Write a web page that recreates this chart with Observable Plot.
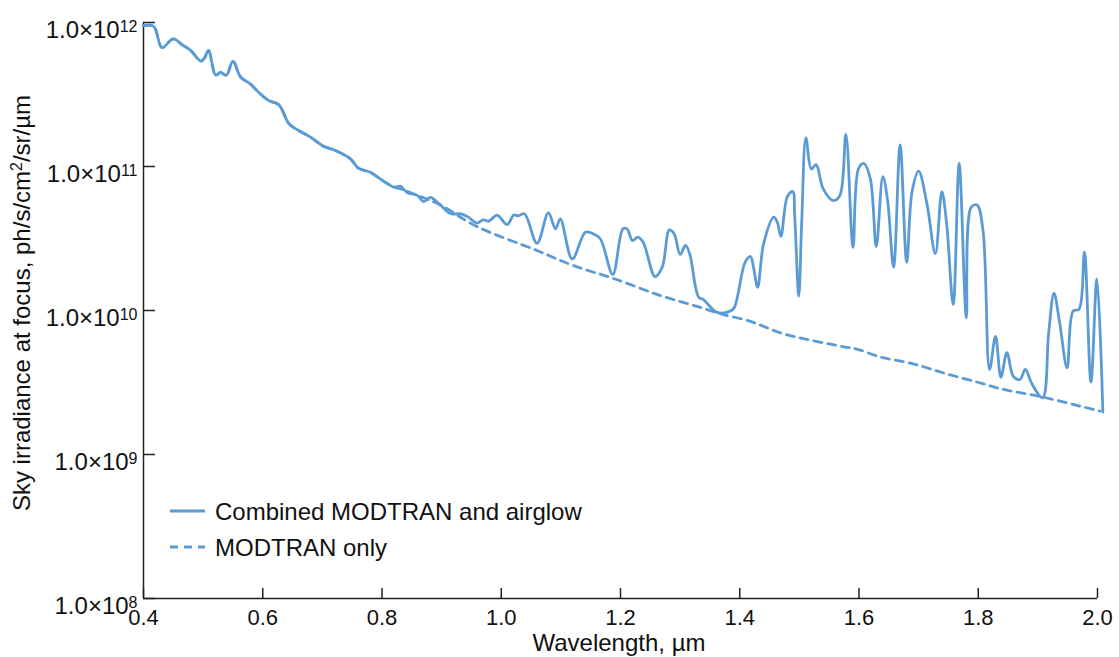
<!DOCTYPE html>
<html><head><meta charset="utf-8">
<script src="https://cdn.jsdelivr.net/npm/d3@7"></script>
<script src="https://cdn.jsdelivr.net/npm/@observablehq/plot@0.6"></script>
<style>
body{margin:0;background:#fff;}
#chart{position:relative;width:1119px;height:657px;}
</style>
</head><body><div id="chart"></div>
<script>
// Combined MODTRAN and airglow (wavelength µm, irradiance ph/s/cm²/sr/µm)
const combinedWl = [0.400,0.417,0.431,0.450,0.465,0.479,0.496,0.502,0.509,0.521,
  0.529,0.539,0.550,0.563,0.579,0.593,0.610,0.627,0.644,0.658,
  0.680,0.702,0.722,0.747,0.761,0.781,0.797,0.820,0.831,0.842,
  0.859,0.870,0.881,0.898,0.915,0.931,0.945,0.959,0.970,0.979,
  0.993,1.010,1.021,1.029,1.039,1.060,1.079,1.091,1.099,1.119,
  1.141,1.152,1.166,1.187,1.204,1.211,1.220,1.229,1.238,1.258,
  1.270,1.282,1.290,1.300,1.309,1.316,1.331,1.339,1.362,1.384,
  1.391,1.409,1.418,1.423,1.430,1.440,1.457,1.463,1.469,1.480,
  1.489,1.492,1.499,1.504,1.511,1.520,1.528,1.540,1.557,1.568,
  1.578,1.590,1.599,1.608,1.619,1.629,1.640,1.648,1.658,1.669,
  1.680,1.689,1.700,1.714,1.728,1.739,1.747,1.758,1.768,1.780,
  1.788,1.798,1.808,1.819,1.829,1.838,1.848,1.859,1.870,1.879,
  1.890,1.908,1.918,1.927,1.936,1.949,1.959,1.969,1.978,1.989,
  1.999,2.009];
const combinedIrr = [9.5e11,9.4e11,6.7e11,7.7e11,7.0e11,6.4e11,5.4e11,5.65e11,6.4e11,4.3e11,
  4.5e11,4.3e11,5.4e11,4.17e11,3.75e11,3.28e11,2.87e11,2.68e11,1.98e11,1.80e11,
  1.60e11,1.38e11,1.29e11,1.13e11,9.7e10,9.1e10,8.2e10,7.2e10,7.3e10,6.6e10,
  6.3e10,5.7e10,6.1e10,5.4e10,4.7e10,4.7e10,4.45e10,4.04e10,4.26e10,4.17e10,
  4.6e10,3.95e10,4.6e10,4.55e10,4.7e10,2.93e10,4.76e10,3.69e10,4.33e10,2.28e10,
  3.5e10,3.44e10,3.15e10,1.78e10,3.69e10,3.69e10,3.06e10,3.23e10,2.98e10,1.72e10,
  2.0e10,3.63e10,3.41e10,2.45e10,2.83e10,2.48e10,1.24e10,1.19e10,9.7e9,9.9e9,
  1.05e10,2.16e10,2.37e10,2.0e10,1.45e10,2.9e10,4.45e10,4.1e10,3.27e10,6.2e10,
  6.7e10,4.7e10,1.26e10,4.2e10,1.58e11,9.6e10,1.03e11,7.0e10,5.8e10,6.3e10,
  1.67e11,2.75e10,9.6e10,1.05e11,8.2e10,2.78e10,8.5e10,5.8e10,2.0e10,1.41e11,
  2.16e10,6.7e10,9.3e10,5.5e10,2.48e10,6.7e10,4.0e10,1.1e10,1.05e11,8.9e9,
  5.2e10,5.4e10,3.6e10,3.9e9,6.6e9,3.44e9,5.1e9,3.48e9,3.32e9,3.9e9,
  3.1e9,2.48e9,6.9e9,1.32e10,8.5e9,4.0e9,9.9e9,1.02e10,2.54e10,3.18e9,
  1.66e10,1.97e9];

// MODTRAN only
const modtranWl = [0.400,0.417,0.431,0.450,0.465,0.479,0.496,0.502,0.509,0.521,
  0.529,0.539,0.550,0.563,0.579,0.593,0.610,0.627,0.644,0.658,
  0.680,0.702,0.722,0.747,0.761,0.781,0.797,0.820,0.831,0.864,
  0.898,0.959,1.060,1.121,1.188,1.267,1.334,1.367,1.418,1.473,
  1.574,1.596,1.636,1.691,1.747,1.809,1.837,1.909,2.004];
const modtranIrr = [9.5e11,9.4e11,6.7e11,7.7e11,7.0e11,6.4e11,5.4e11,5.65e11,6.4e11,4.3e11,
  4.5e11,4.3e11,5.4e11,4.17e11,3.75e11,3.28e11,2.87e11,2.68e11,1.98e11,1.80e11,
  1.60e11,1.38e11,1.29e11,1.13e11,9.7e10,9.1e10,8.2e10,7.2e10,7.0e10,6.2e10,
  5.4e10,3.83e10,2.61e10,2.05e10,1.67e10,1.27e10,1.05e10,9.5e9,8.4e9,6.9e9,
  5.6e9,5.4e9,4.75e9,4.26e9,3.63e9,3.09e9,2.86e9,2.5e9,2.0e9];

const xTicks = [0.4,0.6,0.8,1.0,1.2,1.4,1.6,1.8,2.0];
const yTicks = [1e8,1e9,1e10,1e11,1e12];
const seriesNames = ["Combined MODTRAN and airglow","MODTRAN only"];
const xLabel = "Wavelength, µm";

const combined = combinedWl.map((w,i)=>({wl:w, irr:combinedIrr[i]}));
const modtran = modtranWl.map((w,i)=>({wl:w, irr:modtranIrr[i]}));

const color = "#5B9BD5";
const axisColor = "#222";
const W = 1119, H = 657, mT = 22, mB = 59, mL = 143, mR = 22;

const chart = Plot.plot({
  width: W, height: H,
  marginTop: mT, marginBottom: mB, marginLeft: mL, marginRight: mR,
  style: {fontFamily: "'Liberation Sans', Arial, sans-serif", fontSize: "22px", color: "#111", background: "#fff"},
  x: {domain: [0.4, 2.0]},
  y: {type: "log", domain: [1e8, 1e12]},
  marks: [
    Plot.ruleX([0.4], {stroke: axisColor, strokeWidth: 1.5}),
    Plot.ruleY([1e8], {stroke: axisColor, strokeWidth: 1.5}),
    Plot.tickX(xTicks, {x: d => d, insetTop: 566, stroke: axisColor, strokeWidth: 1.5}),
    Plot.tickY(yTicks, {y: d => d, insetRight: 942, stroke: axisColor, strokeWidth: 1.5}),
    Plot.axisX({ticks: xTicks, tickSize: 0, tickPadding: 11, tickFormat: d => d.toFixed(1), label: null, fill: "#111"}),
    Plot.axisY({ticks: yTicks, tickSize: 0, tickPadding: 6, tickFormat: d => "1.0×10^" + Math.round(Math.log10(d)), label: null, fill: "#111"}),
    Plot.line(modtran, {x: "wl", y: "irr", stroke: color, strokeWidth: 2.8, strokeDasharray: "8,6", curve: "catmull-rom"}),
    Plot.line(combined, {x: "wl", y: "irr", stroke: color, strokeWidth: 2.8, curve: "catmull-rom"})
  ]
});

const svg = d3.select(chart);
// superscript exponents on y tick labels
svg.selectAll('g[aria-label="y-axis tick label"] text').each(function(){
  const parts = this.textContent.split("^");
  const t = d3.select(this);
  t.text(null);
  t.style("font-size", "24px");
  t.append("tspan").text(parts[0]);
  t.append("tspan").style("font-size", "16px").attr("dy", -6).text(parts[1]);
  t.attr("dy", "0.34em");
});
// axis titles
svg.append("text")
  .attr("transform", "translate(30,303) rotate(-90)")
  .attr("text-anchor", "middle").attr("fill", "#111").style("font-size", "24px")
  .call(t => {
    t.append("tspan").text("Sky irradiance at focus, ph/s/cm");
    t.append("tspan").style("font-size", "16px").attr("dy", -8).text("2");
    t.append("tspan").attr("dy", 8).text("/sr/µm");
  });
svg.append("text")
  .attr("x", 619).attr("y", 651)
  .attr("text-anchor", "middle").attr("fill", "#111").style("font-size", "24px")
  .text(xLabel);
// legend
const leg = svg.append("g");
seriesNames.forEach((name, i) => {
  const y = 511 + i * 36;
  leg.append("line").attr("x1", 170).attr("x2", 205).attr("y1", y).attr("y2", y)
    .attr("stroke", color).attr("stroke-width", 2.8)
    .attr("stroke-dasharray", i === 1 ? "8,6" : null);
  leg.append("text").attr("x", 215).attr("y", y).attr("dy", "0.36em")
    .attr("text-anchor", "start")
    .attr("fill", "#111").style("font-size", "24px").text(name);
});

document.getElementById("chart").append(chart);
</script>
</body></html>
